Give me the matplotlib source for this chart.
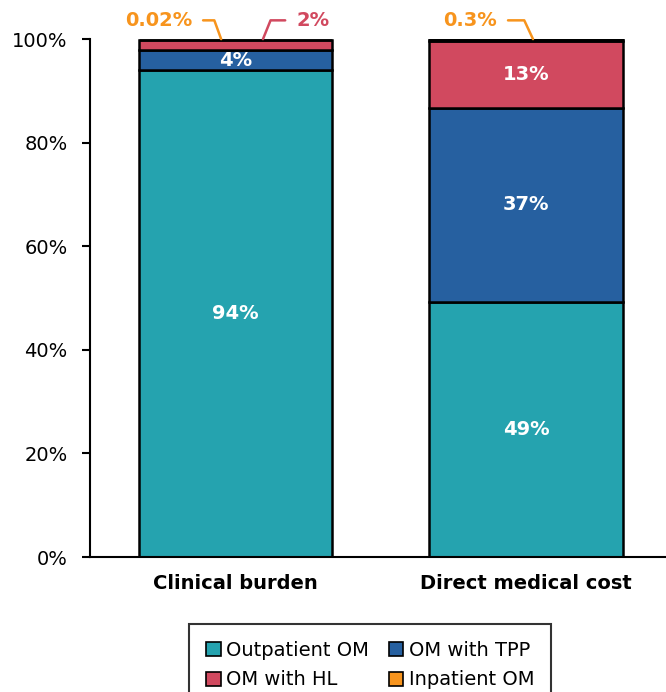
import numpy as np
import matplotlib.pyplot as plt

plt.rcParams['font.family'] = ['DejaVu Sans']

categories = ['Clinical burden', 'Direct medical cost']
series = ['Outpatient OM', 'OM with TPP', 'OM with HL', 'Inpatient OM']
values = {
    'Outpatient OM': [94.0, 49.3],
    'OM with TPP': [3.9, 37.4],
    'OM with HL': [2.0, 13.0],
    'Inpatient OM': [0.02, 0.3],
}
labels = {
    'Outpatient OM': ['94%', '49%'],
    'OM with TPP': ['4%', '37%'],
    'OM with HL': ['2%', '13%'],
    'Inpatient OM': ['0.02%', '0.3%'],
}
colors = {
    'Outpatient OM': '#25A3AF',
    'OM with TPP': '#2660A0',
    'OM with HL': '#D1495F',
    'Inpatient OM': '#F7941D',
}

fig = plt.figure(figsize=(6.66, 6.92), dpi=100)
ax = fig.add_axes([0.135, 0.195, 0.865, 0.7485])

x = np.arange(len(categories))
bottom = np.zeros(len(categories))
bars = {}
for s in series:
    v = np.array(values[s])
    bars[s] = ax.bar(x, v, 0.665, bottom=bottom, color=colors[s],
                     edgecolor='black', linewidth=1.8, label=s)
    for i in range(len(x)):
        if v[i] >= 3:
            ax.text(x[i], bottom[i] + v[i] / 2, labels[s][i], color='white',
                    ha='center', va='center', fontsize=14, fontweight='bold')
    bottom = bottom + v

# small segments labelled outside with leader lines
small = [
    # (series, bar index, x shift, text offset, ha, angleB)
    ('Inpatient OM', 0, -0.05, (-21, 13.5), 'right', 110),
    ('OM with HL', 0, 0.094, (24, 13.5), 'left', 68),
    ('Inpatient OM', 1, 0.024, (-26, 13.5), 'right', 115),
]
for s, i, dx, off, ha, angB in small:
    ax.annotate(labels[s][i], xy=(x[i] + dx, 100), xytext=off,
                textcoords='offset points', ha=ha, va='center',
                color=colors[s], fontsize=14, fontweight='bold',
                annotation_clip=False,
                arrowprops=dict(arrowstyle='-', color=colors[s], lw=1.8,
                                shrinkA=6, shrinkB=0,
                                relpos=(1, 0.5) if ha == 'right' else (0, 0.5),
                                connectionstyle='angle,angleA=0,angleB=%d,rad=0' % angB))

ax.set_ylim(0, 100)
ax.set_xlim(-0.502, 1.482)
ax.set_yticks(np.arange(0, 101, 20))
ax.set_yticklabels(['%d%%' % t for t in range(0, 101, 20)], fontsize=14)
ax.set_xticks(x)
ax.set_xticklabels(categories, fontsize=14, fontweight='bold')
ax.tick_params(axis='x', length=0, pad=12)
ax.tick_params(axis='y', length=6, width=1.5, pad=10)
for sp in ['top', 'right']:
    ax.spines[sp].set_visible(False)
for sp in ['left', 'bottom']:
    ax.spines[sp].set_linewidth(1.5)

order = ['Outpatient OM', 'OM with HL', 'OM with TPP', 'Inpatient OM']
leg = fig.legend([bars[s] for s in order], order, ncol=2, loc='upper center',
                 bbox_to_anchor=(0.556, 0.098), borderaxespad=0, fontsize=14,
                 frameon=True, fancybox=False, edgecolor='black',
                 handlelength=0.75, handleheight=0.75, handletextpad=0.3,
                 columnspacing=1.0, labelspacing=0.55, borderpad=0.85)
leg.get_frame().set_linewidth(1.5)
for h in leg.legend_handles:
    h.set_linewidth(1.2)

fig.savefig('out.png', dpi=100)
